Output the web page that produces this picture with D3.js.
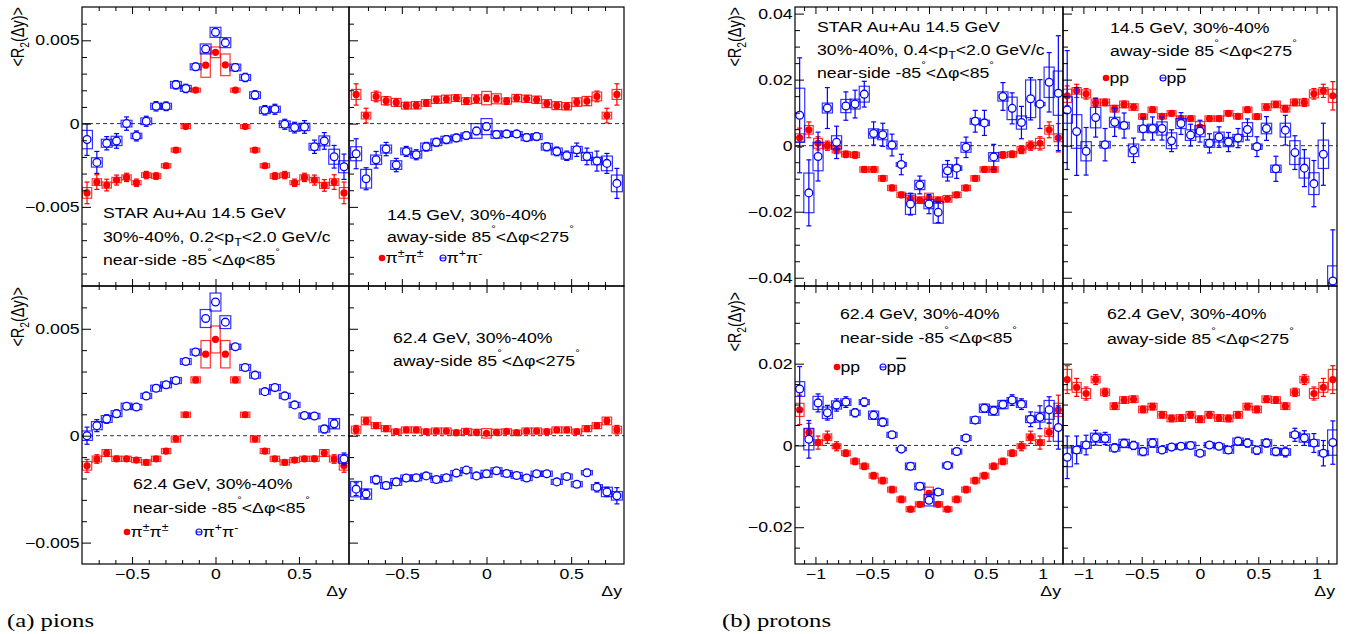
<!DOCTYPE html>
<html>
<head>
<meta charset="utf-8">
<style>
  body { margin: 0; background: #fff; }
  svg { font-family: "Liberation Sans", Arial, sans-serif; }
  .frame { fill: none; stroke: #000; stroke-width: 1.2; }
  .axis path { display: none; }
  .axis line { stroke: #000; stroke-width: 1; }
  .axis text { font-size: 14.5px; fill: #000; }
  .zero { stroke: #333; stroke-width: 1; stroke-dasharray: 4,3; }
  .caption { font-family: "Liberation Serif", "DejaVu Serif", serif; font-size: 19px; }
</style>
<script src="https://d3js.org/d3.v7.min.js"></script>
</head>
<body>
<script>
// bin centres in delta-y
var pionDy = [-0.770,-0.711,-0.652,-0.593,-0.533,-0.474,-0.415,-0.356,-0.296,-0.237,-0.178,-0.119,-0.059,0,
              0.059,0.119,0.178,0.237,0.296,0.356,0.415,0.474,0.533,0.593,0.652,0.711,0.770];
var protonDy = [-1.139,-1.058,-0.977,-0.895,-0.814,-0.732,-0.651,-0.570,-0.488,-0.407,-0.326,-0.244,-0.163,-0.081,0,
                0.081,0.163,0.244,0.326,0.407,0.488,0.570,0.651,0.732,0.814,0.895,0.977,1.058,1.139];

// pions, values in units of 1e-3 (LS = pi+-pi+-, US = pi+pi-)
var pi14NearLS     = [-4.16,-3.51,-3.69,-3.39,-3.23,-3.55,-3.09,-3.15,-2.53,-1.59,-0.18,2.01,3.51,4.28,3.53,2.01,-0.18,-1.59,-2.53,-3.15,-3.09,-3.55,-3.23,-3.39,-3.71,-3.51,-4.16];
var pi14NearLSStat = [0.65,0.44,0.35,0.30,0.25,0.22,0.22,0.20,0.15,0.12,0.10,0.10,0.10,0.10,0.10,0.10,0.10,0.12,0.15,0.20,0.22,0.22,0.25,0.30,0.35,0.44,0.65];
var pi14NearLSSys  = [0.32,0.20,0.18,0.16,0.15,0.12,0.14,0.14,0.12,0.12,0.12,0.12,0.73,0.32,0.65,0.12,0.12,0.12,0.12,0.14,0.14,0.12,0.15,0.16,0.18,0.20,0.32];
var pi14NearUS     = [-0.96,-2.33,-1.18,-1.04,0.00,-0.74,0.14,1.04,1.04,2.33,2.11,3.41,4.48,5.48,4.86,3.37,2.77,1.71,0.80,0.86,-0.04,-0.24,-0.20,-1.39,-1.04,-1.99,-2.59];
var pi14NearUSStat = [0.95,0.66,0.40,0.44,0.40,0.30,0.30,0.28,0.26,0.25,0.25,0.22,0.20,0.20,0.20,0.22,0.25,0.26,0.28,0.30,0.30,0.32,0.38,0.40,0.50,0.68,0.76];
var pi14NearUSSys  = [0.55,0.28,0.24,0.28,0.20,0.16,0.20,0.18,0.18,0.20,0.18,0.18,0.30,0.30,0.30,0.20,0.18,0.20,0.20,0.18,0.20,0.22,0.22,0.20,0.30,0.45,0.36];

var pi14AwayLS     = [1.75,0.48,1.63,1.37,1.27,1.08,1.10,1.24,1.43,1.47,1.53,1.35,1.47,1.53,1.49,1.35,1.53,1.49,1.43,1.20,1.08,1.04,1.29,1.35,1.63,0.48,1.75];
var pi14AwayLSStat = [0.64,0.44,0.32,0.25,0.22,0.20,0.20,0.20,0.20,0.20,0.20,0.20,0.20,0.20,0.20,0.20,0.20,0.20,0.20,0.20,0.20,0.20,0.22,0.25,0.32,0.44,0.64];
var pi14AwayLSSys  = [0.30,0.20,0.24,0.24,0.24,0.20,0.22,0.20,0.22,0.24,0.20,0.20,0.26,0.40,0.30,0.18,0.22,0.22,0.22,0.24,0.24,0.22,0.26,0.28,0.26,0.20,0.30];
var pi14AwayUS     = [-1.81,-3.31,-2.17,-1.53,-2.49,-1.67,-1.87,-1.39,-1.12,-0.96,-0.86,-0.72,-0.44,-0.18,-0.66,-0.62,-0.62,-0.84,-0.78,-1.39,-1.67,-1.93,-1.57,-1.97,-2.25,-2.39,-3.59];
var pi14AwayUSStat = [0.90,0.66,0.50,0.40,0.40,0.30,0.30,0.26,0.24,0.24,0.22,0.22,0.22,0.22,0.20,0.20,0.20,0.22,0.22,0.24,0.26,0.28,0.40,0.50,0.60,0.60,0.90];
var pi14AwayUSSys  = [0.42,0.56,0.28,0.24,0.26,0.20,0.20,0.22,0.20,0.20,0.18,0.16,0.44,0.48,0.22,0.16,0.14,0.18,0.18,0.20,0.20,0.20,0.20,0.24,0.22,0.44,0.50];

var pi62NearLS     = [-1.41,-1.09,-0.81,-1.08,-1.08,-1.14,-1.25,-1.08,-0.72,-0.16,0.98,2.61,3.81,4.50,3.81,2.61,0.98,-0.16,-0.72,-1.08,-1.25,-1.14,-1.08,-1.08,-0.81,-1.09,-1.41];
var pi62NearLSStat = [0.30,0.20,0.16,0.12,0.10,0.10,0.10,0.10,0.10,0.08,0.08,0.08,0.08,0.08,0.08,0.08,0.08,0.08,0.10,0.10,0.10,0.10,0.10,0.12,0.16,0.20,0.30];
var pi62NearLSSys  = [0.20,0.14,0.16,0.12,0.12,0.12,0.12,0.12,0.12,0.14,0.12,0.14,0.64,0.63,0.64,0.14,0.12,0.14,0.12,0.12,0.12,0.12,0.12,0.12,0.16,0.14,0.20];
var pi62NearUS     = [0.00,0.47,0.78,1.03,1.38,1.34,1.86,2.22,2.38,2.58,3.47,3.91,5.48,6.25,5.31,4.16,3.19,2.83,2.06,2.25,1.86,1.44,0.94,0.92,0.31,0.56,-1.09];
var pi62NearUSStat = [0.40,0.28,0.20,0.16,0.12,0.10,0.10,0.10,0.10,0.10,0.10,0.10,0.10,0.10,0.10,0.10,0.10,0.10,0.10,0.10,0.10,0.12,0.12,0.14,0.18,0.20,0.28];
var pi62NearUSSys  = [0.22,0.19,0.16,0.14,0.14,0.12,0.12,0.14,0.14,0.14,0.14,0.14,0.42,0.42,0.30,0.12,0.14,0.14,0.12,0.14,0.12,0.12,0.12,0.12,0.14,0.24,0.20];

var pi62AwayLS     = [0.28,0.69,0.47,0.33,0.19,0.27,0.27,0.19,0.22,0.22,0.14,0.20,0.16,0.11,0.16,0.20,0.14,0.22,0.22,0.19,0.27,0.27,0.19,0.33,0.47,0.69,0.28];
var pi62AwayLSStat = [0.20,0.15,0.12,0.10,0.08,0.08,0.08,0.08,0.08,0.08,0.08,0.08,0.08,0.08,0.08,0.08,0.08,0.08,0.08,0.08,0.08,0.08,0.08,0.10,0.12,0.15,0.20];
var pi62AwayLSSys  = [0.16,0.18,0.14,0.14,0.12,0.14,0.14,0.12,0.14,0.14,0.12,0.14,0.14,0.22,0.14,0.12,0.12,0.14,0.14,0.12,0.14,0.14,0.12,0.14,0.14,0.18,0.16];
var pi62AwayUS     = [-2.50,-2.73,-2.06,-2.33,-2.16,-1.98,-1.97,-1.88,-2.05,-1.97,-1.75,-1.61,-1.88,-1.78,-1.64,-1.77,-1.86,-1.98,-1.78,-1.78,-2.16,-1.91,-2.27,-1.73,-2.41,-2.63,-2.81];
var pi62AwayUSStat = [0.30,0.22,0.20,0.16,0.12,0.10,0.10,0.10,0.10,0.10,0.10,0.10,0.10,0.10,0.10,0.10,0.10,0.10,0.10,0.10,0.12,0.12,0.14,0.16,0.22,0.22,0.38];
var pi62AwayUSSys  = [0.36,0.24,0.14,0.14,0.16,0.14,0.14,0.12,0.14,0.14,0.12,0.12,0.12,0.16,0.14,0.14,0.14,0.12,0.12,0.12,0.12,0.12,0.12,0.10,0.12,0.22,0.20];

// protons, values in units of 1e-2 (LS = pp, US = p pbar)
var p14NearLS     = [0.24,0.48,0.07,0.00,-0.12,-0.26,-0.28,-0.72,-0.72,-0.99,-1.28,-1.49,-1.61,-1.65,-1.59,-1.65,-1.61,-1.49,-1.28,-0.99,-0.72,-0.72,-0.28,-0.26,-0.12,0.00,0.07,0.48,0.24];
var p14NearLSStat = [0.29,0.24,0.20,0.14,0.12,0.10,0.10,0.08,0.08,0.08,0.08,0.08,0.08,0.08,0.08,0.08,0.08,0.08,0.08,0.08,0.08,0.08,0.10,0.10,0.12,0.14,0.20,0.24,0.43];
var p14NearLSSys  = [0.12,0.13,0.15,0.10,0.10,0.08,0.08,0.08,0.08,0.08,0.08,0.08,0.10,0.10,0.15,0.10,0.10,0.08,0.08,0.08,0.08,0.08,0.08,0.08,0.10,0.10,0.15,0.13,0.12];
var p14NearUS     = [0.92,-1.43,-0.33,1.14,0.10,1.20,1.26,1.56,0.37,0.33,0.02,-0.57,-1.77,-1.19,-1.77,-2.02,-0.76,-0.68,-0.05,0.74,0.69,-0.34,1.49,1.13,0.70,1.42,1.26,1.92,1.59];
var p14NearUSStat = [1.74,1.00,0.74,0.62,0.49,0.43,0.42,0.39,0.35,0.35,0.33,0.31,0.33,0.27,0.29,0.31,0.31,0.31,0.31,0.33,0.38,0.38,0.42,0.47,0.49,0.64,0.74,0.90,1.74];
var p14NearUSSys  = [0.82,0.60,0.43,0.15,0.20,0.20,0.15,0.24,0.14,0.15,0.12,0.06,0.31,0.14,0.14,0.33,0.19,0.07,0.15,0.09,0.08,0.13,0.14,0.34,0.20,0.57,0.05,0.46,0.67];

var p14AwayLS     = [1.51,1.66,1.57,1.31,1.31,1.12,1.25,1.17,0.88,1.09,0.89,0.98,0.82,0.82,0.56,0.82,0.82,0.98,0.89,1.09,0.88,1.17,1.25,1.12,1.31,1.31,1.57,1.66,1.51];
var p14AwayLSStat = [0.30,0.20,0.16,0.12,0.10,0.10,0.10,0.08,0.08,0.08,0.08,0.08,0.08,0.08,0.08,0.08,0.08,0.08,0.08,0.08,0.08,0.08,0.08,0.10,0.10,0.12,0.16,0.20,0.43];
var p14AwayLSSys  = [0.20,0.10,0.12,0.10,0.10,0.10,0.10,0.10,0.08,0.08,0.08,0.08,0.08,0.08,0.17,0.08,0.08,0.08,0.08,0.08,0.08,0.10,0.10,0.10,0.10,0.10,0.12,0.10,0.20];
var p14AwayUS     = [1.08,0.43,-0.17,0.85,0.03,0.71,0.61,-0.14,0.51,0.52,0.52,0.15,0.67,0.32,0.44,0.07,0.26,0.11,0.23,0.49,-0.03,0.52,-0.70,0.47,-0.21,-0.68,-1.15,-0.26,-4.10];
var p14AwayUSStat = [1.80,1.33,0.72,0.59,0.49,0.43,0.38,0.37,0.34,0.35,0.35,0.33,0.33,0.33,0.33,0.29,0.31,0.29,0.29,0.32,0.30,0.36,0.38,0.45,0.51,0.56,0.70,0.94,1.55];
var p14AwayUSSys  = [0.40,0.51,0.29,0.31,0.10,0.15,0.10,0.19,0.10,0.13,0.20,0.24,0.15,0.16,0.17,0.12,0.15,0.14,0.11,0.21,0.08,0.16,0.11,0.21,0.36,0.30,0.33,0.43,0.46];

var p62NearLS     = [0.87,0.32,0.07,0.20,-0.02,-0.19,-0.39,-0.51,-0.74,-0.86,-1.08,-1.32,-1.56,-1.44,-1.17,-1.44,-1.56,-1.32,-1.08,-0.86,-0.74,-0.51,-0.39,-0.19,-0.02,0.20,0.07,0.32,0.87];
var p62NearLSStat = [0.36,0.22,0.16,0.15,0.11,0.08,0.08,0.08,0.08,0.08,0.08,0.08,0.06,0.06,0.06,0.06,0.06,0.08,0.08,0.08,0.08,0.08,0.08,0.08,0.11,0.15,0.16,0.22,0.36];
var p62NearLSSys  = [0.16,0.10,0.07,0.08,0.06,0.06,0.06,0.06,0.06,0.06,0.06,0.06,0.06,0.06,0.15,0.06,0.06,0.06,0.06,0.06,0.06,0.06,0.06,0.06,0.06,0.08,0.07,0.10,0.16];
var p62NearUS     = [1.38,0.15,1.04,0.80,0.99,1.06,0.80,1.06,0.74,0.57,0.26,-0.09,-0.51,-1.00,-1.34,-1.14,-0.49,-0.15,0.18,0.62,0.91,0.85,1.00,1.11,1.01,0.64,0.69,0.87,0.44];
var p62NearUSStat = [0.55,0.46,0.22,0.18,0.15,0.13,0.10,0.10,0.10,0.10,0.08,0.08,0.08,0.08,0.08,0.08,0.08,0.08,0.08,0.08,0.10,0.10,0.10,0.13,0.13,0.18,0.28,0.32,0.53];
var p62NearUSSys  = [0.18,0.26,0.16,0.14,0.10,0.08,0.06,0.06,0.10,0.08,0.06,0.04,0.08,0.08,0.14,0.06,0.06,0.06,0.06,0.08,0.10,0.11,0.10,0.06,0.08,0.08,0.12,0.23,0.34];

var p62AwayLS     = [1.61,1.42,1.27,1.61,1.30,0.96,1.11,1.13,0.88,0.95,0.75,0.66,0.67,0.75,0.64,0.75,0.67,0.66,0.75,0.95,0.88,1.13,1.11,0.96,1.30,1.61,1.27,1.42,1.61];
var p62AwayLSStat = [0.34,0.22,0.16,0.12,0.10,0.08,0.08,0.08,0.08,0.08,0.08,0.08,0.08,0.08,0.08,0.08,0.08,0.08,0.08,0.08,0.08,0.08,0.08,0.08,0.10,0.12,0.16,0.22,0.34];
var p62AwayLSSys  = [0.25,0.12,0.12,0.08,0.08,0.08,0.08,0.08,0.08,0.08,0.08,0.08,0.08,0.08,0.08,0.08,0.08,0.08,0.08,0.08,0.08,0.08,0.08,0.08,0.08,0.08,0.12,0.12,0.25];
var p62AwayUS     = [-0.29,-0.11,0.01,0.19,0.17,-0.06,0.05,0.00,-0.15,0.06,-0.11,-0.04,-0.02,0.00,-0.19,0.01,-0.02,-0.11,0.10,0.06,-0.12,0.06,-0.15,-0.16,0.26,0.18,0.06,-0.19,0.07];
var p62AwayUSStat = [0.52,0.34,0.24,0.18,0.15,0.10,0.10,0.10,0.10,0.10,0.08,0.08,0.08,0.08,0.08,0.08,0.08,0.08,0.10,0.10,0.10,0.10,0.10,0.12,0.16,0.18,0.23,0.31,0.53];
var p62AwayUSSys  = [0.23,0.08,0.08,0.11,0.10,0.08,0.10,0.06,0.08,0.10,0.06,0.06,0.06,0.08,0.06,0.06,0.06,0.08,0.08,0.06,0.06,0.08,0.08,0.08,0.06,0.10,0.08,0.06,0.31];

var PION_UNIT = 1e-3, PROTON_UNIT = 1e-2;
var RED = "#ff0000", BLUE = "#0000ff";
var SX = 1.22;   // the figure's text is wider than it is tall
var FS = 14.5;

var width = 1361, height = 634;
var svg = d3.select("body").append("svg")
  .attr("width", width)
  .attr("height", height);

// text with sub/superscripts: parts are strings or [string, kind]
function richText(sel, x, y, parts, size, anchor, extra) {
  var t = sel.append("text")
    .attr("transform", "translate(" + x + "," + y + ") scale(" + SX + ",1)" + (extra || ""))
    .style("font-size", size + "px")
    .attr("text-anchor", anchor || "start");
  var shift = 0;
  parts.forEach(function(p) {
    var s = Array.isArray(p) ? p[0] : p;
    var kind = Array.isArray(p) ? p[1] : "n";
    var target = 0, fs = null;
    if (kind == "sub") { target = 4; fs = size * 0.7; }
    if (kind == "sup") { target = -6; fs = size * 0.7; }
    if (kind == "deg") { target = -10; fs = 9.5; }
    var ts = t.append("tspan").attr("dy", target - shift).text(s);
    if (fs) ts.style("font-size", fs + "px");
    if (kind == "bar") ts.style("text-decoration", "overline");
    shift = target;
  });
  return t;
}

function buildSeries(dy, v, stat, sys, unit) {
  return dy.map(function(d, i) {
    return { dy: d, v: v[i] * unit, stat: stat[i] * unit, sys: sys[i] * unit };
  });
}

function legendEntry(sel, x, y, filled, parts) {
  var col = filled ? RED : BLUE;
  sel.append("line").attr("x1", x - 3).attr("x2", x + 3).attr("y1", y).attr("y2", y)
    .attr("stroke", col).attr("stroke-width", 1);
  sel.append("circle").attr("cx", x).attr("cy", y).attr("r", filled ? 3.3 : 3)
    .attr("fill", filled ? RED : "none").attr("stroke", col).attr("stroke-width", filled ? 0 : 1.1);
  richText(sel, x + 3.5, y + 5, parts, FS);
}

function stretchAxisText(g) {
  g.selectAll("text").attr("transform", "scale(" + SX + ",1)");
}

var clipCount = 0;
function drawPanel(p) {
  var x0 = p.box[0], x1 = p.box[1], y0 = p.box[2], y1 = p.box[3];
  var x = d3.scaleLinear().domain(p.xDom).range([x0, x1]);
  var y = d3.scaleLinear().domain(p.yDom).range([y1, y0]);
  var bw = x(p.dy[1]) - x(p.dy[0]);

  var id = "clip" + (clipCount++);
  svg.append("clipPath").attr("id", id).append("rect")
    .attr("x", x0).attr("y", y0).attr("width", x1 - x0).attr("height", y1 - y0);
  var g = svg.append("g").attr("clip-path", "url(#" + id + ")");

  g.append("line").attr("class", "zero")
    .attr("x1", x0).attr("x2", x1).attr("y1", y(0)).attr("y2", y(0));

  [[p.ls, RED, true], [p.us, BLUE, false]].forEach(function(s) {
    var data = s[0], col = s[1], filled = s[2];
    var boxW = filled ? bw * 0.95 : bw * 1.1;
    var sg = g.append("g");
    sg.selectAll("rect.sys").data(data).enter().append("rect")
      .attr("class", "sys")
      .attr("x", function(d) { return x(d.dy) - boxW / 2; })
      .attr("width", boxW)
      .attr("y", function(d) { return y(d.v + d.sys); })
      .attr("height", function(d) { return y(d.v - d.sys) - y(d.v + d.sys); })
      .attr("fill", "none").attr("stroke", col).attr("stroke-width", 1.2).attr("stroke-opacity", 0.8);
    sg.selectAll("line.err").data(data).enter().append("line")
      .attr("class", "err")
      .attr("x1", function(d) { return x(d.dy); })
      .attr("x2", function(d) { return x(d.dy); })
      .attr("y1", function(d) { return y(d.v + d.stat); })
      .attr("y2", function(d) { return y(d.v - d.stat); })
      .attr("stroke", col).attr("stroke-width", 1.2);
    [1, -1].forEach(function(sgn) {
      sg.selectAll("line.cap" + sgn).data(data).enter().append("line")
        .attr("x1", function(d) { return x(d.dy) - 2.5; })
        .attr("x2", function(d) { return x(d.dy) + 2.5; })
        .attr("y1", function(d) { return y(d.v + sgn * d.stat); })
        .attr("y2", function(d) { return y(d.v + sgn * d.stat); })
        .attr("stroke", col).attr("stroke-width", 1.2);
    });
    sg.selectAll("circle").data(data).enter().append("circle")
      .attr("cx", function(d) { return x(d.dy); })
      .attr("cy", function(d) { return y(d.v); })
      .attr("r", filled ? 3.6 : 3.9)
      .attr("fill", filled ? RED : "#fff")
      .attr("stroke", col).attr("stroke-width", filled ? 0 : 1.3);
  });

  // axes: ticks point into the frame
  var yMinor = p.yMinor.filter(function(v) { return p.yMajor.indexOf(v) < 0; });
  svg.append("g").attr("class", "axis").attr("transform", "translate(" + x0 + ",0)")
    .call(d3.axisLeft(y).tickValues(p.yMajor).tickSizeInner(-9).tickSizeOuter(0).tickPadding(2)
      .tickFormat(p.yLabels ? p.yFmt : ""))
    .call(stretchAxisText);
  svg.append("g").attr("class", "axis").attr("transform", "translate(" + x0 + ",0)")
    .call(d3.axisLeft(y).tickValues(yMinor).tickSizeInner(-5).tickSizeOuter(0).tickFormat(""));

  var xMinor = p.xMinor.filter(function(v) { return p.xMajor.indexOf(v) < 0; });
  svg.append("g").attr("class", "axis").attr("transform", "translate(0," + y1 + ")")
    .call(d3.axisBottom(x).tickValues(p.xMajor).tickSizeInner(-7).tickSizeOuter(0).tickPadding(5)
      .tickFormat(p.xLabels ? d3.format("~f") : ""))
    .call(stretchAxisText);
  svg.append("g").attr("class", "axis").attr("transform", "translate(0," + y1 + ")")
    .call(d3.axisBottom(x).tickValues(xMinor).tickSizeInner(-4).tickSizeOuter(0).tickFormat(""));
  svg.append("g").attr("class", "axis").attr("transform", "translate(0," + y0 + ")")
    .call(d3.axisTop(x).tickValues(p.xMajor).tickSizeInner(-7).tickSizeOuter(0).tickFormat(""));
  svg.append("g").attr("class", "axis").attr("transform", "translate(0," + y0 + ")")
    .call(d3.axisTop(x).tickValues(xMinor).tickSizeInner(-4).tickSizeOuter(0).tickFormat(""));

  svg.append("rect").attr("class", "frame")
    .attr("x", x0).attr("y", y0).attr("width", x1 - x0).attr("height", y1 - y0);

  p.lines.forEach(function(l) { richText(svg, l[0], l[1], l[2], FS); });
  if (p.legend) {
    legendEntry(svg, p.legend.x1, p.legend.y, true, p.legend.ls);
    legendEntry(svg, p.legend.x2, p.legend.y, false, p.legend.us);
  }
  if (p.xTitle) {
    richText(svg, x1 - 2, y1 + 32, ["\u0394y"], FS, "end");
  }
  if (p.yTitle) {
    richText(svg, p.yTitle[0], p.yTitle[1], ["<R", ["2", "sub"], "(\u0394y)>"], FS, "end", " rotate(-90)");
  }
}

var k = function(a, b, s) { return d3.range(a, b + 1).map(function(i) { return +(i * s).toFixed(4); }); };
var pionFmt = function(v) { return v === 0 ? "0" : d3.format(".3f")(v); };
var protonFmt = function(v) { return v === 0 ? "0" : d3.format(".2f")(v); };
var near = function(a, b) { return ["near-side -" + a, ["\u00b0", "deg"], "<\u0394\u03c6<" + b, ["\u00b0", "deg"]]; };
var away = ["away-side 85", ["\u00b0", "deg"], "<\u0394\u03c6<275", ["\u00b0", "deg"]];
var pionLeg = { ls: ["\u03c0", ["\u00b1", "sup"], "\u03c0", ["\u00b1", "sup"]], us: ["\u03c0", ["+", "sup"], "\u03c0", ["-", "sup"]] };
var protLeg = { ls: ["pp"], us: ["p", ["p", "bar"]] };

var pionTop = { yDom: [-0.00975, 0.007], yMajor: [-0.005, 0, 0.005], yMinor: k(-9, 6, 0.001) };
var pionBot = { yDom: [-0.006, 0.007], yMajor: [-0.005, 0, 0.005], yMinor: k(-5, 6, 0.001) };
var protTop = { yDom: [-0.0425, 0.042], yMajor: [-0.04, -0.02, 0, 0.02, 0.04], yMinor: k(-8, 8, 0.005) };
var protBot = { yDom: [-0.029, 0.039], yMajor: [-0.02, 0, 0.02], yMinor: k(-5, 7, 0.005) };
var pionX = { xMajor: [-0.5, 0, 0.5], xMinor: k(-7, 7, 0.1) };
var protX = { xMajor: [-1, -0.5, 0, 0.5, 1], xMinor: k(-11, 11, 0.1) };

var panels = [
  Object.assign({ box: [82, 349, 7, 286], xDom: [-0.8, 0.8], dy: pionDy, yLabels: true, yFmt: pionFmt, yTitle: [24, 7],
    ls: buildSeries(pionDy, pi14NearLS, pi14NearLSStat, pi14NearLSSys, PION_UNIT),
    us: buildSeries(pionDy, pi14NearUS, pi14NearUSStat, pi14NearUSSys, PION_UNIT),
    lines: [[103, 218, ["STAR Au+Au 14.5 GeV"]], [103, 242, ["30%-40%, 0.2<p", ["T", "sub"], "<2.0 GeV/c"]], [103, 265, near(85, 85)]] }, pionTop, pionX),
  Object.assign({ box: [349, 624, 7, 286], xDom: [-0.812, 0.812], dy: pionDy,
    ls: buildSeries(pionDy, pi14AwayLS, pi14AwayLSStat, pi14AwayLSSys, PION_UNIT),
    us: buildSeries(pionDy, pi14AwayUS, pi14AwayUSStat, pi14AwayUSSys, PION_UNIT),
    lines: [[387, 220, ["14.5 GeV, 30%-40%"]], [387, 242, away]],
    legend: { x1: 382, x2: 443, y: 258, ls: pionLeg.ls, us: pionLeg.us } }, pionTop, pionX),
  Object.assign({ box: [82, 349, 286, 564], xDom: [-0.8, 0.8], dy: pionDy, yLabels: true, yFmt: pionFmt, yTitle: [24, 287], xLabels: true, xTitle: true,
    ls: buildSeries(pionDy, pi62NearLS, pi62NearLSStat, pi62NearLSSys, PION_UNIT),
    us: buildSeries(pionDy, pi62NearUS, pi62NearUSStat, pi62NearUSSys, PION_UNIT),
    lines: [[133, 489, ["62.4 GeV, 30%-40%"]], [133, 513, near(85, 85)]],
    legend: { x1: 127, x2: 199, y: 532, ls: pionLeg.ls, us: pionLeg.us } }, pionBot, pionX),
  Object.assign({ box: [349, 624, 286, 564], xDom: [-0.812, 0.812], dy: pionDy, xLabels: true, xTitle: true,
    ls: buildSeries(pionDy, pi62AwayLS, pi62AwayLSStat, pi62AwayLSSys, PION_UNIT),
    us: buildSeries(pionDy, pi62AwayUS, pi62AwayUSStat, pi62AwayUSSys, PION_UNIT),
    lines: [[393, 343, ["62.4 GeV, 30%-40%"]], [393, 366, away]] }, pionBot, pionX),

  Object.assign({ box: [795, 1063, 7, 286], xDom: [-1.18, 1.18], dy: protonDy, yLabels: true, yFmt: protonFmt, yTitle: [741, 7],
    ls: buildSeries(protonDy, p14NearLS, p14NearLSStat, p14NearLSSys, PROTON_UNIT),
    us: buildSeries(protonDy, p14NearUS, p14NearUSStat, p14NearUSSys, PROTON_UNIT),
    lines: [[817, 32, ["STAR Au+Au 14.5 GeV"]], [817, 55, ["30%-40%, 0.4<p", ["T", "sub"], "<2.0 GeV/c"]], [817, 78, near(85, 85)]] }, protTop, protX),
  Object.assign({ box: [1063, 1337, 7, 286], xDom: [-1.175, 1.175], dy: protonDy,
    ls: buildSeries(protonDy, p14AwayLS, p14AwayLSStat, p14AwayLSSys, PROTON_UNIT),
    us: buildSeries(protonDy, p14AwayUS, p14AwayUSStat, p14AwayUSSys, PROTON_UNIT),
    lines: [[1110, 33, ["14.5 GeV, 30%-40%"]], [1110, 56, away]],
    legend: { x1: 1106, x2: 1163, y: 78, ls: protLeg.ls, us: protLeg.us } }, protTop, protX),
  Object.assign({ box: [795, 1063, 286, 564], xDom: [-1.18, 1.18], dy: protonDy, yLabels: true, yFmt: protonFmt, yTitle: [741, 292], xLabels: true, xTitle: true,
    ls: buildSeries(protonDy, p62NearLS, p62NearLSStat, p62NearLSSys, PROTON_UNIT),
    us: buildSeries(protonDy, p62NearUS, p62NearUSStat, p62NearUSSys, PROTON_UNIT),
    lines: [[840, 319, ["62.4 GeV, 30%-40%"]], [840, 343, near(85, 85)]],
    legend: { x1: 837, x2: 883, y: 367, ls: protLeg.ls, us: protLeg.us } }, protBot, protX),
  Object.assign({ box: [1063, 1337, 286, 564], xDom: [-1.175, 1.175], dy: protonDy, xLabels: true, xTitle: true,
    ls: buildSeries(protonDy, p62AwayLS, p62AwayLSStat, p62AwayLSSys, PROTON_UNIT),
    us: buildSeries(protonDy, p62AwayUS, p62AwayUSStat, p62AwayUSSys, PROTON_UNIT),
    lines: [[1107, 319, ["62.4 GeV, 30%-40%"]], [1107, 344, away]] }, protBot, protX)
];

panels.forEach(drawPanel);

svg.append("text").attr("class", "caption").attr("transform", "translate(7,627) scale(1.3,1)").text("(a) pions");
svg.append("text").attr("class", "caption").attr("transform", "translate(722,627) scale(1.3,1)").text("(b) protons");
</script>
</body>
</html>
